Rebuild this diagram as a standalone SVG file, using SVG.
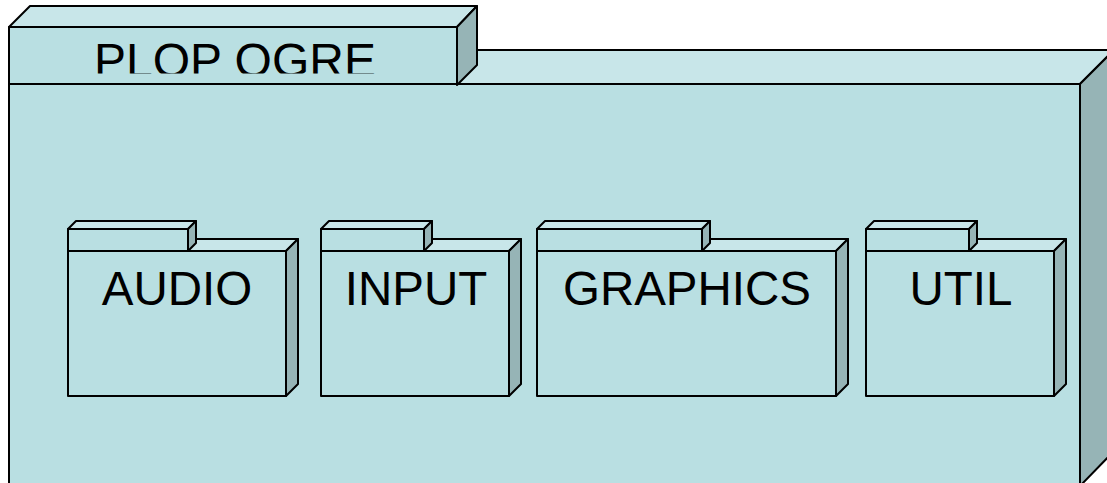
<svg xmlns="http://www.w3.org/2000/svg" width="1107" height="483" viewBox="0 0 1107 483">
<style>
.f{fill:#b9dfe2;stroke:#000;stroke-width:2;stroke-linejoin:round}
.t{fill:#c8e6e9;stroke:#000;stroke-width:2;stroke-linejoin:round}
.s{fill:#96b4b6;stroke:#000;stroke-width:2;stroke-linejoin:round}
.lbl{font-family:"Liberation Sans",Arial,sans-serif;font-size:47.5px;fill:#000;text-anchor:middle}
</style>
<defs>
<clipPath id="clipTitle"><rect x="0" y="0" width="500" height="73.5"/></clipPath>
</defs>
<rect width="1107" height="483" fill="#fff"/>
<g id="plop-ogre">
<polygon class="t" points="9,84 43,50 1114,50 1080,84"/>
<polygon class="s" points="1080,84 1114,50 1114,451 1080,486"/>
<rect class="f" x="9" y="84" width="1071" height="402"/>
<polygon class="t" points="9,27 30,6 477,6 457,27"/>
<polygon class="s" points="457,27 477,6 477,65 457,85"/>
<rect class="f" x="9" y="27" width="448" height="57"/>
<text class="lbl" x="235" y="77" style="font-size:48px" clip-path="url(#clipTitle)">PLOP OGRE</text>
</g>
<g id="audio">
<polygon class="t" points="68,251 80,239 298,239 286,251"/>
<polygon class="s" points="286,251 298,239 298,384 286,396"/>
<rect class="f" x="68" y="251" width="218" height="145"/>
<polygon class="t" points="68,229 76,221 196,221 188,229"/>
<polygon class="s" points="188,229 196,221 196,243 188,251"/>
<rect class="f" x="68" y="229" width="120" height="22"/>
<text class="lbl" x="177" y="305">AUDIO</text>
</g>
<g id="input">
<polygon class="t" points="321,251 333,239 521,239 509,251"/>
<polygon class="s" points="509,251 521,239 521,384 509,396"/>
<rect class="f" x="321" y="251" width="188" height="145"/>
<polygon class="t" points="321,229 329,221 432,221 424,229"/>
<polygon class="s" points="424,229 432,221 432,243 424,251"/>
<rect class="f" x="321" y="229" width="103" height="22"/>
<text class="lbl" x="416" y="305">INPUT</text>
</g>
<g id="graphics">
<polygon class="t" points="537,251 549,239 848,239 836,251"/>
<polygon class="s" points="836,251 848,239 848,384 836,396"/>
<rect class="f" x="537" y="251" width="299" height="145"/>
<polygon class="t" points="537,229 545,221 710,221 702,229"/>
<polygon class="s" points="702,229 710,221 710,243 702,251"/>
<rect class="f" x="537" y="229" width="165" height="22"/>
<text class="lbl" x="687" y="305">GRAPHICS</text>
</g>
<g id="util">
<polygon class="t" points="866,251 878,239 1066,239 1054,251"/>
<polygon class="s" points="1054,251 1066,239 1066,384 1054,396"/>
<rect class="f" x="866" y="251" width="188" height="145"/>
<polygon class="t" points="866,229 874,221 977,221 969,229"/>
<polygon class="s" points="969,229 977,221 977,243 969,251"/>
<rect class="f" x="866" y="229" width="103" height="22"/>
<text class="lbl" x="961" y="305">UTIL</text>
</g>
<g id="connectors"></g>
</svg>
